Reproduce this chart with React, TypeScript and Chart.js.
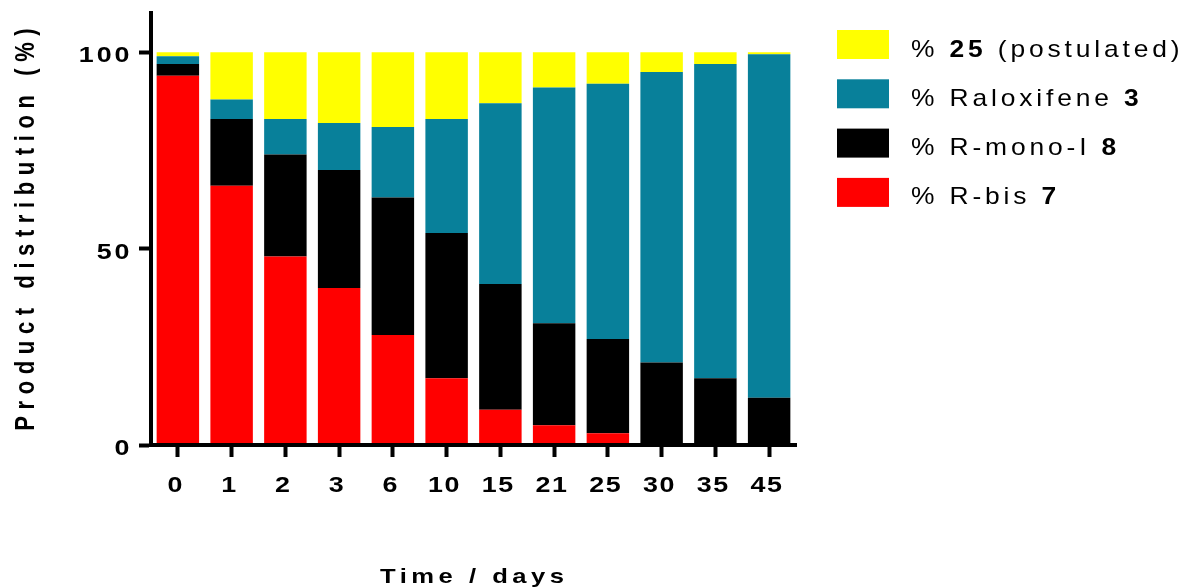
import React, { useEffect, useRef } from "react";
import { Chart, registerables } from "chart.js";

Chart.register(...registerables);

const categories = ["0", "1", "2", "3", "6", "10", "15", "21", "25", "30", "35", "45"];
const rBis = [94, 66, 48, 40, 28, 17, 9, 5, 3, 0, 0, 0];
const rMonoI = [3, 17, 26, 30, 35, 37, 32, 26, 24, 21, 17, 12];
const raloxifene = [2, 5, 9, 12, 18, 29, 46, 60, 65, 74, 80, 87.5];
const postulated = [1, 12, 17, 18, 19, 17, 13, 9, 8, 5, 3, 0.5];
const yTicks = [0, 50, 100];

const xTitle = "Time / days";
const yTitle = "Product distribution (%)";

const seriesColors = ["#FF0000", "#000000", "#08809A", "#FFFF00"];
// legend labels: [prefix, bold part, suffix], top to bottom
const legendLabels: [string, string, string][] = [
  ["% ", "25", " (postulated)"],
  ["% Raloxifene ", "3", ""],
  ["% R-mono-I ", "8", ""],
  ["% R-bis ", "7", ""],
];
const legendColors = ["#FFFF00", "#08809A", "#000000", "#FF0000"];

const FONT = '"Liberation Sans", Arial, sans-serif';
const STRETCH = 1.22;

// Draw horizontally-stretched text with letter spacing (screen px). Returns screen advance.
function drawText(
  ctx: CanvasRenderingContext2D,
  text: string,
  x: number,
  y: number,
  font: string,
  spacing: number,
  align: "left" | "center" | "right",
  stretch: number = STRETCH
) {
  ctx.save();
  ctx.font = font;
  (ctx as any).letterSpacing = "0px";
  const sl = spacing / stretch;
  const w0 = ctx.measureText(text).width;
  const inkW = w0 + (text.length - 1) * sl;
  ctx.translate(x, y);
  ctx.scale(stretch, 1);
  (ctx as any).letterSpacing = `${sl}px`;
  ctx.textAlign = "left";
  ctx.textBaseline = "alphabetic";
  const sx = align === "center" ? -inkW / 2 : align === "right" ? -inkW : 0;
  ctx.fillText(text, sx, 0);
  ctx.restore();
  return (w0 + text.length * sl) * stretch;
}

const textPlugin = {
  id: "customText",
  afterDraw(chart: any) {
    const ctx = chart.ctx as CanvasRenderingContext2D;
    const area = chart.chartArea;
    const xs = chart.scales.x;
    const ys = chart.scales.y;
    ctx.save();
    ctx.fillStyle = "#000";
    // X tick labels
    categories.forEach((c, i) => {
      drawText(ctx, c, xs.getPixelForTick(i) - 3, 491.5, `bold 22px ${FONT}`, 1.5, "center");
    });
    // Y tick labels
    yTicks.forEach((v) => {
      drawText(ctx, String(v), 129.5, ys.getPixelForValue(v) + 10, `bold 22px ${FONT}`, 3, "right");
    });
    // X title
    drawText(ctx, xTitle, (area.left + area.right) / 2 - 1.5, 582.5, `bold 21px ${FONT}`, 4.5, "center");
    // Y title (rotated; stretch applies across the glyph height)
    ctx.save();
    ctx.translate(33.5, (area.top + area.bottom) / 2 + 0.5);
    ctx.rotate(-Math.PI / 2);
    ctx.scale(1, STRETCH);
    ctx.font = `bold 22px ${FONT}`;
    (ctx as any).letterSpacing = "0px";
    const yw0 = ctx.measureText(yTitle).width;
    const ysp = 6.6;
    const yInk = yw0 + (yTitle.length - 1) * ysp;
    (ctx as any).letterSpacing = `${ysp}px`;
    ctx.textAlign = "left";
    ctx.textBaseline = "alphabetic";
    ctx.fillText(yTitle, -yInk / 2, 0);
    ctx.restore();
    // Legend
    const boxX = area.right + 41;
    const textX = boxX + 74;
    legendLabels.forEach((parts, i) => {
      const cy = 44.5 + i * 49.3;
      ctx.fillStyle = legendColors[i];
      ctx.fillRect(boxX, cy - 14.5, 52, 29);
      ctx.fillStyle = "#000";
      let x = textX;
      parts.forEach((p, j) => {
        if (!p) return;
        x += drawText(ctx, p, x, cy + 12, `${j === 1 ? "bold " : ""}24px ${FONT}`, 3.85, "left", 1.1);
      });
    });
    ctx.restore();
  },
};

export default function App() {
  const ref = useRef<HTMLCanvasElement>(null);
  useEffect(() => {
    if (!ref.current) return;
    Chart.defaults.font.family = FONT;
    Chart.defaults.color = "#000";
    const names = ["% R-bis 7", "% R-mono-I 8", "% Raloxifene 3", "% 25 (postulated)"];
    const series = [rBis, rMonoI, raloxifene, postulated];
    const chart = new Chart(ref.current, {
      type: "bar",
      data: {
        labels: categories,
        datasets: series.map((d, i) => ({
          label: names[i],
          data: d,
          backgroundColor: seriesColors[i],
          borderWidth: 0,
          categoryPercentage: 0.79,
          barPercentage: 1,
        })),
      },
      options: {
        animation: false,
        responsive: false,
        devicePixelRatio: 1,
        layout: { padding: { left: 0, top: 13, right: 389, bottom: 0 } },
        plugins: { legend: { display: false }, tooltip: { enabled: false } },
        scales: {
          x: {
            stacked: true,
            afterFit: (s: any) => {
              s.height = 143;
            },
            grid: {
              offset: false,
              drawOnChartArea: false,
              drawTicks: true,
              tickLength: 12,
              tickWidth: 4,
              tickColor: "#000",
              z: 1,
            },
            border: { display: true, color: "#000", width: 4, z: 1 },
            ticks: { display: false, autoSkip: false, maxRotation: 0 },
          },
          y: {
            stacked: true,
            min: 0,
            max: 110,
            afterFit: (s: any) => {
              s.width = 151;
            },
            afterBuildTicks: (s: any) => {
              s.ticks = yTicks.map((v) => ({ value: v }));
            },
            grid: {
              drawOnChartArea: false,
              drawTicks: true,
              tickLength: 12,
              tickWidth: 4,
              tickColor: "#000",
              z: 1,
            },
            border: { display: true, color: "#000", width: 4, z: 1 },
            ticks: { display: false },
          },
        },
      },
      plugins: [textPlugin],
    } as any);
    return () => chart.destroy();
  }, []);
  return (
    <div style={{ position: "fixed", left: 0, top: 0, width: 1185, height: 588, background: "#fff" }}>
      <canvas ref={ref} width={1185} height={588} style={{ display: "block", width: 1185, height: 588 }} />
    </div>
  );
}
